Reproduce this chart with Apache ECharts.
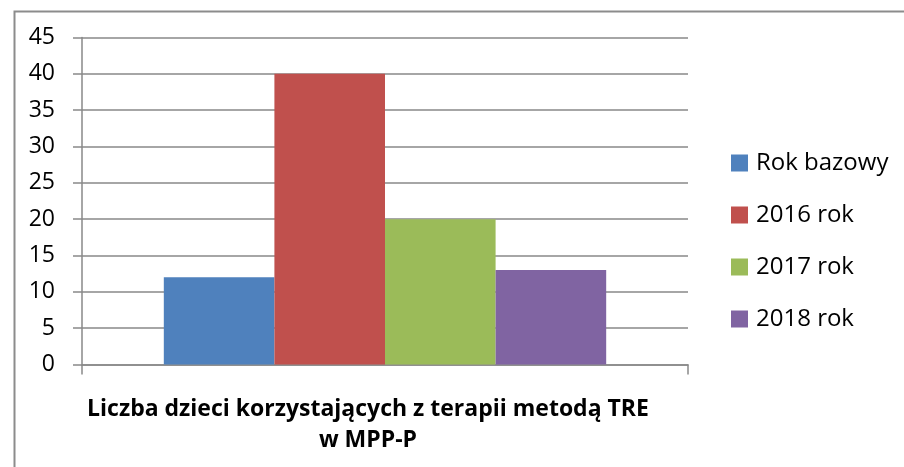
<!DOCTYPE html>
<html>
<head>
<meta charset="utf-8">
<script src="https://cdn.jsdelivr.net/npm/echarts@6/dist/echarts.min.js"></script>
<style>
  html, body { margin: 0; padding: 0; background: #fff; }
  #chart { width: 904px; height: 467px; }
</style>
</head>
<body>
<div id="chart"></div>
<script>
// dane wykresu
var categories = ['Liczba dzieci korzystających z terapii metodą TRE w MPP-P'];
var seriesNames = ['Rok bazowy', '2016 rok', '2017 rok', '2018 rok'];
var seriesValues = [[12], [40], [20], [13]];
var seriesColors = ['#4F81BD', '#C0504D', '#9BBB59', '#8064A2'];
var yTicks = [0, 5, 10, 15, 20, 25, 30, 35, 40, 45];

var font = "'Open Sans', 'Liberation Sans', sans-serif";
var axisGray = '#898989';

var chart = echarts.init(document.getElementById('chart'));

var series = seriesNames.map(function (name, i) {
    return {
        name: name,
        type: 'bar',
        data: seriesValues[i],
        barGap: 0,
        barCategoryGap: '27%',
        itemStyle: { color: seriesColors[i] }
    };
});

chart.setOption({
    animation: false,
    backgroundColor: '#fff',
    textStyle: { fontFamily: font },
    title: {
        text: 'Liczba dzieci korzystających z terapii metodą TRE\nw MPP-P',
        left: 368,
        top: 394,
        padding: 0,
        textAlign: 'center',
        textStyle: {
            fontFamily: font,
            fontSize: 23,
            fontWeight: 'bold',
            color: '#000',
            lineHeight: 31
        }
    },
    legend: {
        orient: 'vertical',
        left: 731,
        top: 151,
        padding: 0,
        itemWidth: 17,
        itemHeight: 17,
        itemGap: 28,
        icon: 'rect',
        textStyle: { fontFamily: font, fontSize: 24, color: '#000', padding: [0, 0, 0, 3] },
        data: seriesNames
    },
    grid: {
        left: 82,
        right: 216,
        top: 37.5,
        bottom: 102.5,
        containLabel: false
    },
    xAxis: {
        type: 'category',
        data: categories,
        axisLine: { show: true, lineStyle: { color: axisGray, width: 1.5 } },
        axisTick: { show: true, length: 10, interval: 0, lineStyle: { color: axisGray, width: 1.5 } },
        axisLabel: { show: false }
    },
    yAxis: {
        type: 'value',
        min: yTicks[0],
        max: yTicks[yTicks.length - 1],
        interval: 5,
        axisLine: { show: true, lineStyle: { color: axisGray, width: 1.5 } },
        axisTick: { show: true, inside: false, length: 9, lineStyle: { color: axisGray, width: 1.5 } },
        axisLabel: { fontFamily: font, fontSize: 23, color: '#000', margin: 27 },
        splitLine: { show: true, lineStyle: { color: axisGray, width: 1.5 } }
    },
    graphic: [{
        type: 'rect',
        left: 12,
        top: 9,
        shape: { width: 1000, height: 600 },
        style: { fill: 'none', stroke: '#8c8c8c', lineWidth: 2 },
        silent: true,
        z: -1
    }],
    series: series
});
</script>
</body>
</html>
